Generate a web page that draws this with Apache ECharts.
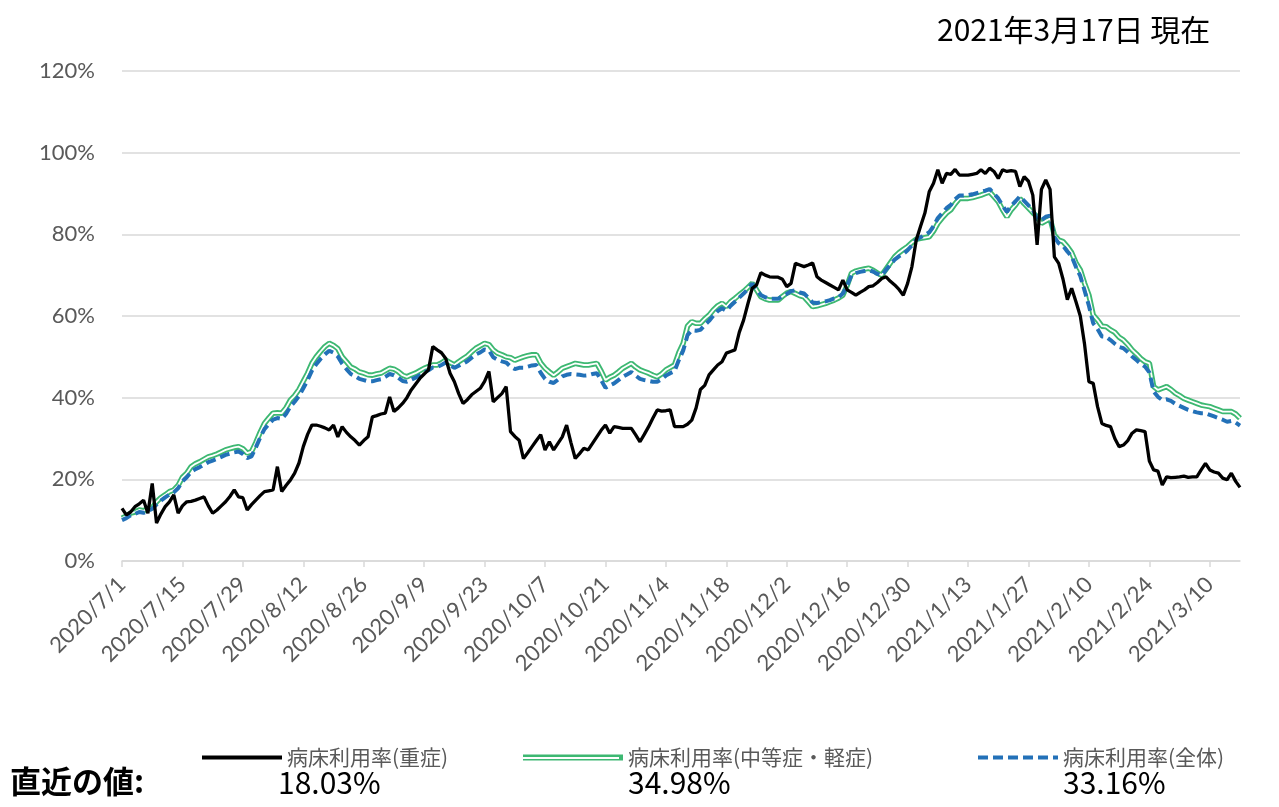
<!DOCTYPE html>
<html>
<head>
<meta charset="utf-8">
<script src="https://cdn.jsdelivr.net/npm/echarts@6/dist/echarts.min.js"></script>
<style>
html,body{margin:0;padding:0;background:#fff;}
#chart{width:1279px;height:807px;}
</style>
</head>
<body>
<div id="chart"></div>
<script>
// ---- data (percent) ----
const startDate = [2020, 7, 1];
const dayCount = 260;
const seriesNames = ['病床利用率(重症)', '病床利用率(中等症・軽症)', '病床利用率(全体)'];
const severe = [
12.9,11.3,12.0,13.3,14.0,14.9,11.7,19.0,9.3,11.5,
13.3,14.5,16.2,11.7,13.5,14.5,14.6,14.9,15.3,15.7,
13.5,11.7,12.5,13.5,14.5,15.8,17.4,15.7,15.5,12.5,
13.8,14.9,16.0,17.0,17.2,17.4,23.1,17.0,18.5,19.8,
21.5,24.0,28.0,31.0,33.3,33.3,33.0,32.6,32.1,33.3,
30.4,32.9,31.5,30.4,29.5,28.4,29.5,30.4,35.3,35.6,
36.0,36.2,40.2,36.6,37.5,38.6,40.0,41.9,43.3,44.7,
45.8,46.8,52.5,51.7,51.0,49.6,46.0,43.9,41.0,38.6,
39.5,40.7,41.5,42.3,44.0,46.4,39.0,40.0,41.0,42.7,
31.7,30.5,29.6,25.1,26.5,28.0,29.5,30.9,27.2,29.2,
27.2,28.8,30.4,33.3,29.0,25.1,26.3,27.6,27.2,28.8,
30.4,32.0,33.3,31.3,32.9,32.7,32.5,32.5,32.5,30.9,
29.2,31.0,32.9,35.0,37.0,36.7,36.8,37.0,32.9,32.9,
32.9,33.5,34.5,37.5,42.0,43.0,45.6,46.8,48.0,48.8,
50.9,51.3,51.7,56.0,59.0,63.0,66.8,67.6,70.6,70.0,
69.6,69.5,69.5,69.0,67.2,68.0,72.9,72.5,72.1,72.5,
73.0,69.6,68.8,68.2,67.6,67.0,66.4,68.8,66.4,65.8,
65.1,65.8,66.4,67.2,67.4,68.2,69.2,69.6,68.5,67.6,
66.5,65.1,68.0,72.1,78.6,82.0,85.2,90.4,92.5,95.8,
92.5,94.9,94.7,95.9,94.5,94.5,94.5,94.7,94.9,95.8,
94.9,96.2,95.4,93.7,95.8,95.4,95.6,95.4,91.7,94.1,
93.0,89.6,77.4,91.0,93.3,91.0,74.5,72.9,69.0,64.0,
66.8,63.5,60.0,53.0,43.9,43.5,37.8,33.7,33.2,32.9,
30.0,28.0,28.4,29.5,31.3,32.1,31.9,31.7,24.5,22.3,
22.0,18.6,20.6,20.4,20.5,20.6,20.8,20.5,20.6,20.6,
22.3,23.9,22.3,21.8,21.5,20.3,19.9,21.5,19.5,18.03
];
const moderate = [
10.5,11.0,11.7,12.0,12.5,12.3,12.8,13.0,14.5,15.5,
16.2,17.0,17.4,18.5,20.5,21.5,23.1,23.8,24.3,24.9,
25.5,25.8,26.2,26.7,27.2,27.5,27.8,28.0,27.5,26.4,
26.8,29.0,31.5,33.7,35.0,36.2,36.3,36.2,37.5,39.4,
40.5,42.0,44.0,46.0,48.4,50.0,51.3,52.5,53.3,52.8,
52.0,50.0,48.8,47.5,47.0,46.3,46.0,45.6,45.5,45.8,
46.0,46.6,47.2,47.0,46.4,45.5,45.1,45.6,46.0,46.6,
47.2,47.6,48.0,48.0,48.5,49.2,48.6,48.0,48.8,49.5,
50.2,51.2,52.1,52.7,53.3,53.0,51.7,50.9,50.5,50.0,
49.8,49.2,49.6,50.0,50.3,50.5,50.5,48.5,47.2,46.3,
45.5,46.3,47.2,47.6,48.0,48.4,48.2,48.0,48.0,48.2,
48.4,46.5,44.3,45.0,45.5,46.3,47.2,47.8,48.4,47.5,
46.8,46.4,46.0,45.5,45.1,45.8,46.8,47.4,48.0,51.0,
53.3,57.5,58.6,58.2,58.2,59.3,60.2,61.5,62.5,63.1,
62.3,63.5,64.3,65.2,66.0,67.0,68.0,66.4,64.7,64.2,
63.9,63.9,63.9,64.8,65.6,66.0,65.5,65.0,64.7,63.5,
62.3,62.5,62.8,63.1,63.5,63.9,64.4,65.1,67.5,70.5,
71.0,71.3,71.5,71.7,71.2,70.5,70.0,71.5,73.0,74.5,
75.5,76.3,77.0,78.0,78.8,79.0,79.2,79.4,80.8,82.7,
84.0,85.2,86.0,87.5,88.8,88.8,88.8,89.0,89.3,89.6,
90.0,90.4,89.2,88.0,86.0,84.3,86.0,87.2,88.8,87.5,
86.4,85.3,84.3,82.7,83.3,83.9,79.8,78.6,78.2,77.0,
75.5,73.0,71.3,68.0,65.1,60.2,59.0,57.5,57.4,56.6,
56.0,54.8,54.1,53.0,51.7,50.7,49.6,48.8,48.4,42.7,
41.9,42.3,42.7,42.0,41.1,40.5,39.8,39.4,39.0,38.6,
38.2,38.0,37.8,37.4,37.0,36.6,36.6,36.6,36.0,34.98
];
const overall = [
10.0,10.5,11.2,11.5,12.0,11.8,12.2,12.8,13.8,14.8,
15.6,16.3,16.8,17.8,19.5,20.5,21.8,22.5,23.0,23.6,
24.2,24.6,25.0,25.5,26.0,26.3,26.6,26.8,26.2,25.2,
25.6,27.8,30.2,32.3,33.5,34.6,35.0,34.8,36.0,37.8,
39.0,40.4,42.3,44.3,46.6,48.2,49.5,50.6,51.5,51.0,
50.1,48.3,47.0,45.8,45.3,44.6,44.3,44.0,44.0,44.3,
44.5,45.1,45.8,45.5,44.9,44.1,43.9,44.4,44.9,45.5,
46.2,46.7,47.4,47.5,48.0,48.6,48.0,47.3,47.8,48.3,
48.9,49.8,50.6,51.1,51.8,51.6,49.9,49.3,48.9,48.6,
47.6,47.0,47.3,47.3,47.6,47.9,48.0,46.1,44.6,43.9,
43.6,44.4,45.2,45.6,45.8,45.7,45.6,45.4,45.5,45.8,
46.0,44.3,42.4,43.0,43.5,44.3,45.1,45.7,46.3,45.4,
44.6,44.3,44.1,43.9,43.9,44.5,45.4,46.0,46.5,49.2,
51.5,55.3,56.5,56.4,56.6,57.8,58.8,60.1,61.2,61.9,
61.3,62.5,63.5,64.5,65.5,66.6,67.9,66.5,65.1,64.6,
64.2,64.2,64.2,64.9,65.4,66.1,66.3,65.8,65.5,64.5,
63.3,63.2,63.4,63.6,63.9,64.3,64.6,65.5,67.5,70.0,
70.5,70.8,71.0,71.2,70.9,70.3,69.9,71.3,72.6,73.8,
74.6,75.2,76.1,77.3,78.7,79.3,79.8,80.5,82.0,84.0,
85.2,86.4,87.2,88.6,89.5,89.5,89.6,89.8,90.1,90.4,
90.7,91.1,90.0,88.8,87.0,85.5,87.0,88.1,89.3,88.2,
87.1,86.0,83.7,83.5,84.3,84.6,79.3,77.8,77.2,75.8,
74.6,72.0,69.8,66.2,62.5,58.2,56.8,55.0,54.9,54.1,
53.2,52.4,52.1,51.2,50.1,49.2,48.3,47.6,46.2,41.5,
40.2,39.4,39.6,39.2,38.5,38.0,37.5,37.0,36.7,36.4,
36.2,36.2,35.8,35.4,35.0,34.6,34.1,34.3,33.9,33.16
];
const yTicks = [0, 20, 40, 60, 80, 100, 120];
const titleText = '2021年3月17日 現在';
const latestLabel = '直近の値:';
const latestValues = ['18.03%', '34.98%', '33.16%'];

// category labels (daily dates)
const dates = [];
for (let i = 0; i < dayCount; i++) {
  const d = new Date(startDate[0], startDate[1] - 1, startDate[2] + i);
  dates.push(d.getFullYear() + '/' + (d.getMonth() + 1) + '/' + d.getDate());
}

const LABEL_FONT = 'Lato, "Open Sans", sans-serif';
const JP_FONT = '"Noto Sans CJK JP", sans-serif';
const GRAY = '#595959';
const GREEN = '#3db872';
const BLUE = '#2371b8';

const chart = echarts.init(document.getElementById('chart'), null, {renderer: 'canvas'});

function legendBox(name, left, width, lineWidth) {
  return {
    data: [name], left: left, top: 747, itemWidth: width, itemHeight: 22,
    padding: 0, selectedMode: false,
    itemStyle: {opacity: 0},
    lineStyle: {width: lineWidth},
    textStyle: {color: GRAY, fontSize: 21, fontFamily: JP_FONT}
  };
}

chart.setOption({
  animation: false,
  backgroundColor: '#ffffff',
  grid: {left: 122, right: 39, top: 71, bottom: 246, containLabel: false},
  legend: [
    legendBox(seriesNames[0], 200, 80, 4),
    legendBox(seriesNames[1], 520, 100, 6),
    legendBox(seriesNames[2], 976, 80, 4)
  ],
  xAxis: {
    type: 'category', data: dates, boundaryGap: false,
    axisLine: {lineStyle: {color: '#d9d9d9', width: 1.5}},
    axisTick: {show: true, interval: 13, length: 6, lineStyle: {color: '#d9d9d9', width: 1.5}},
    axisLabel: {interval: 13, rotate: 45, color: GRAY, fontSize: 22, fontFamily: LABEL_FONT, margin: 20},
    splitLine: {show: false}
  },
  yAxis: {
    type: 'value', min: yTicks[0], max: yTicks[yTicks.length - 1], interval: yTicks[1] - yTicks[0],
    axisLine: {show: false}, axisTick: {show: false},
    axisLabel: {formatter: '{value}%', color: GRAY, fontSize: 22, fontFamily: LABEL_FONT, margin: 27},
    splitLine: {lineStyle: {color: '#d9d9d9', width: 1.5}}
  },
  series: [
    {
      name: seriesNames[1], type: 'line', data: moderate, symbol: 'none', z: 2,
      itemStyle: {color: GREEN},
      lineStyle: {color: GREEN, width: 5.5}
    },
    {
      name: '_inner', type: 'line', data: moderate, symbol: 'none', z: 3, silent: true,
      lineStyle: {color: '#ffffff', width: 1.8}
    },
    {
      name: seriesNames[2], type: 'line', data: overall, symbol: 'none', z: 4,
      itemStyle: {color: BLUE},
      lineStyle: {color: BLUE, width: 4, type: [10, 5]}
    },
    {
      name: seriesNames[0], type: 'line', data: severe, symbol: 'none', z: 5,
      itemStyle: {color: '#000000'},
      lineStyle: {color: '#000000', width: 3.3}
    }
  ],
  graphic: [
    {type: 'text', left: 937, top: 15, style: {text: titleText, fill: '#000', fontSize: 30, fontFamily: JP_FONT}},
    {type: 'line', shape: {x1: 521, y1: 758, x2: 619, y2: 758}, style: {stroke: '#ffffff', lineWidth: 2}, z: 100},
    {type: 'text', left: 10, top: 766, style: {text: latestLabel, fill: '#000', fontSize: 31, fontWeight: 'bold', fontFamily: JP_FONT}},
    {type: 'text', left: 278, top: 768, style: {text: latestValues[0], fill: '#000', fontSize: 30, fontFamily: JP_FONT}},
    {type: 'text', left: 628, top: 768, style: {text: latestValues[1], fill: '#000', fontSize: 30, fontFamily: JP_FONT}},
    {type: 'text', left: 1063, top: 768, style: {text: latestValues[2], fill: '#000', fontSize: 30, fontFamily: JP_FONT}}
  ]
});
</script>
</body>
</html>
